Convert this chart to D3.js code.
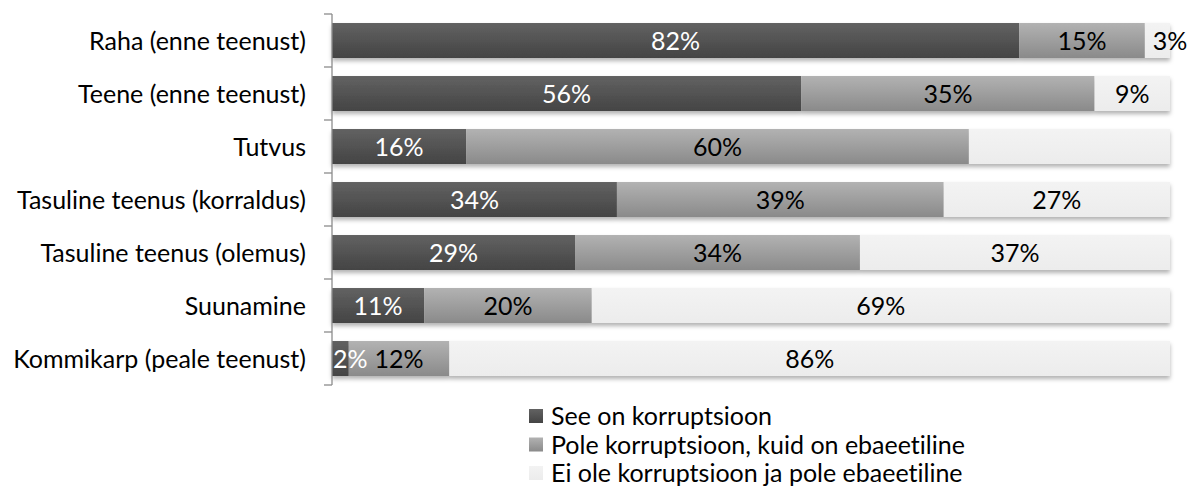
<!DOCTYPE html>
<html><head><meta charset="utf-8">
<script src="https://cdn.jsdelivr.net/npm/d3@7"></script>
<style>body{margin:0;background:#fff}svg{display:block}text{font-family:Lato,"Open Sans",sans-serif;font-variant-ligatures:none}</style>
</head><body><svg id="c" width="1190" height="486"></svg>
<script>
const categories = ["Raha (enne teenust)","Teene (enne teenust)","Tutvus","Tasuline teenus (korraldus)","Tasuline teenus (olemus)","Suunamine","Kommikarp (peale teenust)"];
const seriesNames = ["See on korruptsioon","Pole korruptsioon, kuid on ebaeetiline","Ei ole korruptsioon ja pole ebaeetiline"];
const corrupt   = [82,56,16,34,29,11,2];
const unethical = [15,35,60,39,34,20,12];
const neither   = [3,9,24,27,37,69,86];
const hiddenLabels = [["Tutvus",2]];

const svg = d3.select("#c");
const FS = 25;
const x = d3.scaleLinear().domain([0,100]).range([332,1170]);
const y = d3.scaleBand().domain(categories).range([14,385]).paddingInner(0.34).paddingOuter(0.17);

const defs = svg.append("defs");
const grads = [["g0","#626262","#444444"],["g1","#b2b2b2","#8a8a8a"],["g2","#f3f3f3","#ececec"]];
grads.forEach(([id,a,b])=>{
  const g = defs.append("linearGradient").attr("id",id).attr("x1",0).attr("y1",0).attr("x2",0).attr("y2",1);
  g.append("stop").attr("offset","0%").attr("stop-color",a);
  g.append("stop").attr("offset","100%").attr("stop-color",b);
});
const f = defs.append("filter").attr("id","sh").attr("x","-5%").attr("y","-20%").attr("width","110%").attr("height","160%");
f.append("feDropShadow").attr("dx",0).attr("dy",3).attr("stdDeviation",2).attr("flood-color","#000").attr("flood-opacity",0.3);

const rows = categories.map((c,i)=>({c, v:[corrupt[i],unethical[i],neither[i]]}));
const bars = svg.append("g").attr("filter","url(#sh)");
rows.forEach(r=>{
  let acc=0;
  r.v.forEach((v,k)=>{
    bars.append("rect").attr("x",x(acc)).attr("y",y(r.c)).attr("width",x(acc+v)-x(acc)).attr("height",y.bandwidth()).attr("fill",`url(#g${k})`);
    acc+=v;
  });
});
const lab = svg.append("g").attr("font-size",FS);
rows.forEach(r=>{
  let acc=0;
  r.v.forEach((v,k)=>{
    const hidden = hiddenLabels.some(h=>h[0]===r.c&&h[1]===k);
    if(!hidden){
      const x0=x(acc), x1=x(acc+v), cx=(x0+x1)/2;
      const t = lab.append("text").attr("y",y(r.c)+y.bandwidth()/2).attr("dy","0.36em")
        .attr("fill",k===0?"#fff":"#000").text(v+"%");
      const w = t.node().getComputedTextLength();
      if (w > x1-x0) t.attr("x",Math.max(x0+1,x1-w*0.5)).attr("text-anchor","start");
      else t.attr("x",cx).attr("text-anchor","middle");
    }
    acc+=v;
  });
});

// axis
const ax = svg.append("g").attr("stroke","#8c8c8c").attr("stroke-width",1.3);
ax.append("line").attr("x1",332).attr("x2",332).attr("y1",14).attr("y2",385);
const bounds = categories.map(c=>y(c)-y.step()*y.paddingInner()/2).concat([385]);
ax.selectAll("line.t").data(bounds).join("line").attr("class","t").attr("x1",324).attr("x2",332).attr("y1",d=>d).attr("y2",d=>d);

svg.append("g").attr("font-size",FS).selectAll("text").data(categories).join("text")
  .attr("x",306).attr("y",d=>y(d)+y.bandwidth()/2).attr("dy","0.36em").attr("text-anchor","end").attr("fill","#000").text(d=>d);

// legend
const lg = svg.append("g").attr("font-size",FS);
seriesNames.forEach((n,k)=>{
  const cy = 416 + k*28.5;
  lg.append("rect").attr("x",529).attr("y",cy-7).attr("width",14).attr("height",14).attr("fill",`url(#g${k})`);
  lg.append("text").attr("x",551).attr("y",cy).attr("dy","0.36em").attr("fill","#000").text(n);
});
</script></body></html>
